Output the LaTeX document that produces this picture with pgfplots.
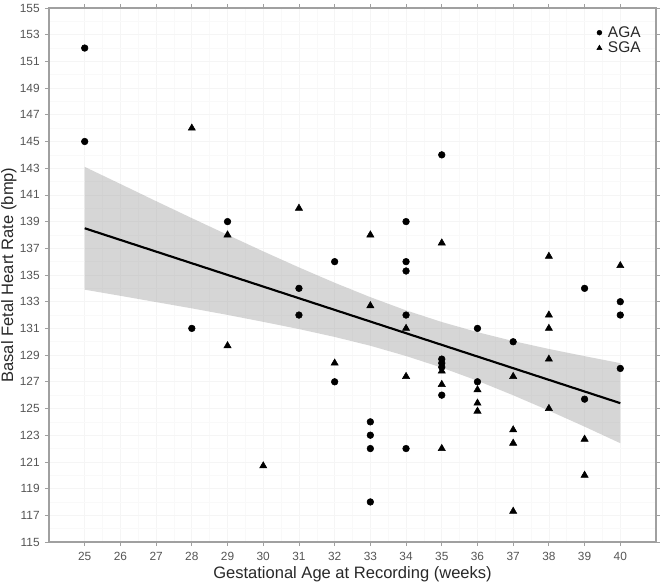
\documentclass[border=0pt]{standalone}
\usepackage{pgfplots}
\pgfplotsset{compat=1.18}
\usepackage{fontspec}
\setmainfont{Liberation Sans}
\definecolor{tickgray}{RGB}{85,85,85}
\definecolor{labgray}{RGB}{40,40,40}
\definecolor{framegray}{RGB}{160,160,160}
\definecolor{ribbon}{RGB}{153,153,153}

\begin{document}
\begin{tikzpicture}
\path[use as bounding box] (-36.75pt,-32.25pt) rectangle (458.25pt,406.5pt);
\begin{axis}[
  scale only axis,
  width=455.25pt, height=400.5pt,
  xmin=24, xmax=41, ymin=115, ymax=155,
  xtick={25,...,40},
  ytick={115,117,...,155},
  minor x tick num=1, minor y tick num=1,
  grid=both,
  major grid style={draw=black!4, line width=0.5pt},
  minor grid style={draw=black!2.5, line width=0.4pt},
  tick align=outside,
  major tick length=3pt,
  minor tick length=0pt,
  tick style={draw=framegray, line width=0.6pt},
  axis line style={draw=framegray, line width=0.8pt},
  /pgf/number format/assume math mode=true,
  xticklabel style={font=\fontsize{8.9}{10}\selectfont, text=tickgray, yshift=-1pt},
  yticklabel style={font=\fontsize{8.9}{10}\selectfont, text=tickgray, xshift=-0.5pt},
  xlabel={Gestational Age at Recording (weeks)},
  ylabel={Basal Fetal Heart Rate (bmp)},
  every axis x label/.style={at={(axis description cs:0.5,0)}, anchor=base,
    yshift=-27.4pt, font=\fontsize{12.4}{14}\selectfont, text=labgray, inner sep=0pt},
  every axis y label/.style={at={(axis description cs:-0.0589,0.5)}, anchor=base,
    rotate=90, font=\fontsize{12.4}{14}\selectfont, text=labgray, inner sep=0pt},
  legend style={at={(0.985,0.975)}, anchor=north east, draw=none, fill=none,
    font=\fontsize{11.6}{15}\selectfont, text=labgray, row sep=-1pt,
    column sep=3pt, nodes={inner sep=1.5pt}},
  legend cell align=left,
  clip=true,
]

% appropriate-for-gestational-age recordings
\addplot[only marks, mark=*, mark size=2.5pt, black, forget plot] coordinates {
  (25,152) (25,145) (28,131) (29,139) (31,134) (31,132)
  (32,136) (32,127) (33,124) (33,123) (33,122) (33,118)
  (34,139) (34,136) (34,135.3) (34,132) (34,122)
  (35,144) (35,128.7) (35,128.4) (35,128.1) (35,126)
  (36,131) (36,127) (37,130) (39,134) (39,125.7)
  (40,133) (40,132) (40,128)
};

% small-for-gestational-age recordings
\addplot[only marks, mark=triangle*, mark size=3.1pt, black, forget plot] coordinates {
  (28,146) (29,138) (29,129.7) (30,120.7) (31,140) (32,128.4)
  (33,138) (33,132.7) (34,131) (34,127.4)
  (35,137.4) (35,127.8) (35,126.8) (35,122)
  (36,126.4) (36,125.4) (36,124.8)
  (37,127.4) (37,123.4) (37,122.4) (37,117.3)
  (38,136.4) (38,132) (38,131) (38,128.7) (38,125)
  (39,122.7) (39,120) (40,135.7)
};

% 95% confidence band of the linear fit
\addplot[draw=none, fill=ribbon, fill opacity=0.4, forget plot] coordinates {
  (25,143.10) (26,141.82) (27,140.53) (28,139.26) (29,138.01) (30,136.77)
  (31,135.57) (32,134.42) (33,133.34) (34,132.35) (35,131.48) (36,130.72)
  (37,130.05) (38,129.46) (39,128.92) (40,128.40)
  (40,122.40) (39,123.64) (38,124.84) (37,125.99) (36,127.08) (35,128.06)
  (34,128.93) (33,129.70) (32,130.36) (31,130.95) (30,131.49) (29,132.01)
  (28,132.50) (27,132.97) (26,133.44) (25,133.90)
} -- cycle;

% fitted regression line
\addplot[black, line width=1.6pt, forget plot] coordinates {(25,138.5) (40,125.4)};

\addlegendimage{only marks, mark=*, mark size=1.8pt, black}
\addlegendimage{only marks, mark=triangle*, mark size=2.2pt, black}
\legend{AGA, SGA}
\end{axis}
\end{tikzpicture}
\end{document}
